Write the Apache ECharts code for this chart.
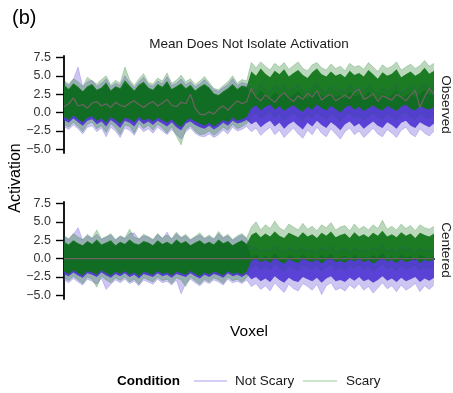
<!DOCTYPE html>
<html>
<head>
<meta charset="utf-8">
<script src="https://cdn.jsdelivr.net/npm/echarts@6/dist/echarts.min.js"></script>
<style>html,body{margin:0;padding:0;background:#fff;}#c{width:453px;height:393px;}</style>
</head>
<body>
<div id="c"></div>
<script>
// ---- data (80 voxel bins) ----
const yTicks = [-5, -2.5, 0, 2.5, 5, 7.5];
const conditions = ['Not Scary', 'Scary'];
const panels = ['Observed', 'Centered'];

// Observed panel: Scary (green) dense band and outer extremes
const obsGreenHi = [3.8,3.2,4.0,3.5,2.9,3.6,3.9,3.1,3.4,4.1,3.0,3.6,3.3,4.4,3.7,3.0,3.8,4.2,3.4,3.1,3.9,3.5,4.3,3.2,3.6,4.0,3.3,3.8,3.0,3.5,3.9,3.4,2.6,2.4,2.9,3.3,3.9,3.2,3.7,3.5,
  5.6,5.0,6.0,5.3,4.8,5.7,5.2,5.9,4.9,5.4,5.8,5.1,4.7,5.5,6.0,5.2,4.9,5.6,5.0,5.3,4.8,5.7,5.1,5.4,4.9,5.8,5.2,4.6,5.5,5.0,5.3,5.9,4.8,5.2,5.6,5.0,5.4,6.1,5.3,5.7];
const obsGreenLo = [-0.6,-1.0,-0.4,-0.9,-1.3,-0.7,-0.5,-1.1,-0.8,-1.4,-0.6,-1.0,-1.5,-0.7,-0.9,-1.3,-0.6,-1.1,-0.8,-1.2,-0.7,-1.0,-1.4,-0.9,-1.6,-2.0,-1.1,-0.8,-1.2,-1.5,-1.8,-1.4,-1.9,-1.5,-1.0,-1.3,-0.7,-1.1,-0.9,-0.6,
  0.6,1.0,0.3,0.8,1.1,0.4,0.9,0.2,0.7,1.0,0.5,0.1,0.8,0.4,1.1,0.6,0.3,0.9,0.5,0.0,0.7,1.0,0.4,0.8,0.2,0.6,1.0,0.5,0.3,0.9,0.6,0.2,0.8,1.1,0.5,0.3,0.9,0.6,0.4,0.8];
const obsGreenMax = [4.4,3.9,4.6,4.2,3.6,4.8,4.3,3.9,4.5,5.0,3.8,4.4,4.0,6.2,4.5,3.7,4.6,5.3,4.1,3.9,4.7,4.3,5.4,4.0,4.4,5.1,4.2,4.6,3.8,4.3,4.9,4.1,3.3,3.1,3.7,4.2,5.0,4.0,4.5,4.3,
  6.8,6.1,6.9,6.3,5.8,6.7,6.2,6.8,5.9,6.4,6.9,6.0,5.7,6.5,6.8,6.1,5.8,6.6,6.0,6.3,5.7,6.7,6.2,6.4,5.9,6.8,6.2,5.6,6.5,6.0,6.3,6.9,5.8,6.2,6.6,6.0,6.4,7.1,6.3,6.7];
const obsGreenMin = [-1.6,-2.0,-1.3,-1.9,-2.6,-1.6,-1.3,-2.2,-1.8,-2.7,-1.5,-2.1,-3.0,-1.7,-1.9,-2.8,-1.5,-2.2,-1.7,-2.4,-1.6,-2.1,-2.8,-1.9,-3.2,-4.4,-2.3,-1.8,-2.5,-3.0,-2.9,-2.5,-3.1,-2.6,-2.0,-2.4,-1.6,-2.2,-1.9,-1.5,
  -0.5,0.0,-0.8,-0.3,0.1,-0.7,-0.2,-1.0,-0.4,0.0,-0.6,-1.1,-0.2,-0.7,0.1,-0.5,-0.9,-0.1,-0.6,-1.2,-0.4,0.0,-0.7,-0.3,-1.0,-0.5,0.0,-0.6,-0.9,-0.1,-0.5,-1.0,-0.2,0.1,-0.6,-0.9,-0.1,-0.5,-0.8,-0.3];
// Observed panel: Not Scary (purple)
const obsPurpleHi = [3.5,3.0,3.8,3.3,2.8,3.4,3.7,3.0,3.2,3.9,2.9,3.4,3.1,4.0,3.5,2.9,3.6,3.9,3.2,3.0,3.7,3.3,4.0,3.1,3.4,3.8,3.1,3.6,2.9,3.3,3.7,3.2,2.5,2.3,2.7,3.1,3.7,3.0,3.5,3.3,
  2.6,2.2,3.0,2.4,2.0,2.8,2.3,2.9,2.1,2.5,2.9,2.2,1.9,2.6,3.0,2.3,2.0,2.7,2.1,2.4,1.9,2.8,2.2,2.5,2.0,2.9,2.3,1.8,2.6,2.1,2.4,3.0,1.9,2.3,2.7,2.1,2.5,3.1,2.4,2.8];
const obsPurpleLo = [-1.0,-1.4,-0.8,-1.3,-1.8,-1.1,-0.9,-1.6,-1.2,-1.9,-1.0,-1.5,-2.1,-1.1,-1.4,-1.9,-1.0,-1.6,-1.2,-1.7,-1.1,-1.5,-1.9,-1.3,-2.0,-2.4,-1.5,-1.2,-1.7,-2.0,-2.2,-1.8,-2.3,-1.9,-1.4,-1.8,-1.1,-1.5,-1.3,-1.0,
  -1.6,-1.2,-2.0,-1.5,-1.1,-1.9,-1.4,-2.2,-1.6,-1.2,-1.8,-2.3,-1.4,-1.9,-1.1,-1.7,-2.1,-1.3,-1.8,-2.4,-1.6,-1.2,-1.9,-1.5,-2.2,-1.7,-1.2,-1.8,-2.1,-1.3,-1.7,-2.2,-1.4,-1.1,-1.8,-2.1,-1.3,-1.7,-2.0,-1.5];
const obsPurpleMax = [4.1,3.7,4.5,6.2,3.5,4.2,4.4,3.6,4.0,4.6,3.5,4.0,3.7,5.0,4.1,3.4,4.2,4.8,3.8,3.6,4.3,3.9,4.9,3.7,4.0,4.6,3.8,4.2,3.5,3.9,4.5,3.8,3.1,2.9,3.4,3.8,4.6,3.7,4.1,3.9,
  3.4,3.0,3.9,3.2,2.8,3.7,3.1,3.8,2.9,3.3,3.8,3.0,2.7,3.5,3.9,3.1,2.8,3.6,2.9,3.2,2.7,3.7,3.0,3.4,2.8,3.8,3.1,2.6,3.5,2.9,3.2,3.9,2.7,3.1,3.6,2.9,3.3,4.0,3.2,3.7];
const obsPurpleMin = [-1.9,-2.3,-1.7,-2.2,-2.9,-2.0,-1.8,-2.6,-2.1,-3.3,-2.0,-2.5,-3.4,-2.1,-2.4,-3.1,-1.9,-2.6,-2.2,-2.8,-2.0,-2.5,-3.0,-2.3,-3.0,-3.6,-2.6,-2.1,-2.8,-3.2,-3.3,-2.9,-3.4,-3.0,-2.4,-2.9,-2.0,-2.5,-2.3,-1.9,
  -2.6,-2.1,-3.1,-2.5,-2.0,-3.0,-2.4,-3.4,-2.7,-2.1,-2.9,-3.5,-2.4,-3.0,-2.0,-2.8,-3.3,-2.2,-2.9,-3.6,-2.6,-2.1,-3.0,-2.5,-3.4,-2.8,-2.1,-2.9,-3.3,-2.3,-2.8,-3.4,-2.4,-2.0,-2.9,-3.3,-2.2,-2.8,-3.2,-2.5];
const obsMean = [0.8,1.2,2.0,0.9,1.1,0.6,1.3,1.5,0.9,1.2,0.7,1.4,1.0,0.8,1.3,1.6,1.1,0.7,1.2,1.5,0.9,1.3,1.8,1.0,0.8,1.4,1.2,2.5,0.6,-0.2,-0.3,0.1,-0.2,0.5,0.9,0.3,1.0,1.6,1.2,1.5,
  3.3,2.1,1.6,2.4,1.9,1.4,2.2,2.7,2.0,1.5,2.3,1.8,2.6,2.1,3.0,1.7,2.2,2.5,1.6,2.0,2.4,1.9,2.8,3.2,1.8,2.1,2.6,1.5,2.3,2.0,1.7,2.5,2.1,1.6,2.4,3.0,0.7,2.2,3.3,2.4];

// Centered panel: Scary (green)
const cenGreenHi = [2.3,1.9,2.5,2.1,1.8,2.4,2.0,2.6,1.9,2.2,2.5,1.8,2.3,2.0,2.6,2.1,1.9,2.4,2.2,1.8,2.5,2.0,2.3,1.9,2.6,2.1,2.4,1.8,2.2,2.5,2.0,2.3,1.9,2.6,2.1,2.4,1.8,2.2,2.5,2.0,
  3.2,3.6,2.9,3.4,3.0,3.7,3.1,2.8,3.5,3.2,2.9,3.6,3.0,3.3,2.8,3.5,3.1,3.7,2.9,3.2,3.4,2.8,3.6,3.0,3.3,2.9,3.5,3.1,3.8,3.0,3.3,2.9,3.6,3.1,3.4,2.8,3.5,3.2,3.0,3.4];
const cenGreenLo = [-1.8,-2.1,-1.6,-2.0,-2.3,-1.7,-1.9,-2.2,-1.6,-2.0,-2.3,-1.8,-2.1,-1.7,-2.2,-1.9,-2.4,-1.8,-2.0,-2.2,-1.7,-2.1,-1.9,-2.3,-1.8,-2.0,-2.2,-1.7,-2.1,-2.4,-1.9,-2.2,-1.8,-2.0,-2.3,-1.7,-2.1,-1.9,-2.2,-1.8,
  -0.3,0.0,-0.5,-0.2,-0.6,0.1,-0.4,-0.7,-0.1,-0.4,-0.6,0.0,-0.3,-0.5,-0.1,-0.7,-0.2,0.1,-0.5,-0.3,-0.6,-0.1,-0.4,0.0,-0.5,-0.2,-0.7,-0.3,0.1,-0.4,-0.2,-0.6,-0.1,-0.5,-0.3,0.0,-0.6,-0.2,-0.4,-0.1];
const cenGreenMax = [3.1,2.7,3.4,2.9,2.6,3.3,2.8,3.9,2.7,3.0,3.4,2.6,3.1,2.8,4.0,2.9,2.7,3.3,3.0,2.6,3.4,2.8,3.2,2.7,3.6,2.9,3.3,2.6,3.0,3.5,2.8,3.2,2.7,3.7,2.9,3.3,2.6,3.1,3.4,2.8,
  4.3,5.0,3.9,4.6,4.1,5.1,4.2,3.8,4.7,4.3,3.9,4.8,4.0,4.4,3.8,4.6,4.2,4.9,3.9,4.3,4.5,3.8,4.7,4.0,4.4,3.9,4.6,4.1,5.2,4.0,4.4,3.9,4.7,4.1,4.5,3.8,4.6,4.2,4.0,4.4];
const cenGreenMin = [-2.6,-3.0,-2.4,-2.9,-3.4,-2.5,-2.8,-3.9,-2.4,-2.9,-3.3,-2.6,-3.0,-2.5,-3.2,-2.8,-3.5,-2.6,-2.9,-3.2,-2.5,-3.0,-2.8,-3.4,-2.6,-2.9,-3.8,-2.5,-3.0,-3.5,-2.8,-3.2,-2.6,-2.9,-3.4,-2.5,-3.0,-2.8,-3.2,-2.6,
  -1.2,-0.8,-1.5,-1.0,-1.6,-0.7,-1.3,-1.7,-0.9,-1.3,-1.6,-0.8,-1.2,-1.5,-0.9,-1.7,-1.1,-0.7,-1.5,-1.2,-1.6,-0.9,-1.3,-0.8,-1.5,-1.0,-1.7,-1.2,-0.7,-1.3,-1.1,-1.6,-0.9,-1.5,-1.2,-0.8,-1.6,-1.1,-1.4,-1.0];
// Centered panel: Not Scary (purple)
const cenPurpleHi = [2.1,1.8,2.4,2.0,1.7,2.3,1.9,2.4,1.8,2.1,2.3,1.7,2.2,1.9,2.5,2.0,1.8,2.3,2.1,1.7,2.4,1.9,2.2,1.8,2.5,2.0,2.3,1.7,2.1,2.4,1.9,2.2,1.8,2.5,2.0,2.3,1.7,2.1,2.4,1.9,
  0.2,0.6,-0.1,0.4,0.0,0.7,0.1,-0.2,0.5,0.2,-0.1,0.6,0.0,0.3,-0.2,0.5,0.1,0.7,-0.1,0.2,0.4,-0.2,0.6,0.0,0.3,-0.1,0.5,0.1,0.8,0.0,0.3,-0.1,0.6,0.1,0.4,-0.2,0.5,0.2,0.0,0.4];
const cenPurpleLo = [-2.1,-2.4,-1.9,-2.3,-2.6,-2.0,-2.2,-2.5,-1.9,-2.3,-2.6,-2.1,-2.4,-2.0,-2.5,-2.2,-2.7,-2.1,-2.3,-2.5,-2.0,-2.4,-2.2,-2.6,-2.1,-2.3,-2.5,-2.0,-2.4,-2.7,-2.2,-2.5,-2.1,-2.3,-2.6,-2.0,-2.4,-2.2,-2.5,-2.1,
  -2.8,-2.5,-3.1,-2.7,-3.2,-2.4,-2.9,-3.3,-2.6,-3.0,-3.2,-2.5,-2.8,-3.1,-2.6,-3.3,-2.7,-2.4,-3.1,-2.9,-3.2,-2.6,-3.0,-2.5,-3.1,-2.8,-3.3,-2.9,-2.4,-3.0,-2.7,-3.2,-2.6,-3.1,-2.8,-2.5,-3.2,-2.7,-3.0,-2.6];
const cenPurpleMax = [3.0,2.6,3.3,4.2,2.5,3.1,2.7,3.3,2.6,2.9,3.2,2.5,3.0,2.7,3.4,3.5,2.6,3.1,2.9,2.5,3.3,2.7,3.6,2.6,3.4,2.8,3.1,2.5,2.9,3.2,2.7,3.0,2.6,3.4,2.8,3.1,2.5,2.9,3.2,2.7,
  1.2,1.6,0.9,1.4,1.0,1.8,1.1,0.8,1.5,1.2,0.9,1.6,1.0,1.3,0.8,1.5,1.1,1.7,0.9,1.2,1.4,0.8,1.6,1.0,1.3,0.9,1.5,1.1,1.8,1.0,1.3,0.9,1.6,1.1,1.4,0.8,1.5,1.2,1.0,1.4];
const cenPurpleMin = [-2.9,-3.3,-2.7,-3.2,-3.6,-2.8,-3.1,-3.5,-2.7,-4.2,-3.5,-2.9,-3.3,-2.8,-3.4,-3.1,-3.7,-2.9,-3.2,-3.5,-2.8,-3.3,-3.1,-3.6,-2.9,-4.8,-3.4,-2.8,-3.3,-3.7,-3.1,-3.4,-2.9,-3.2,-3.6,-2.8,-3.3,-3.1,-3.4,-2.9,
  -3.8,-3.4,-4.2,-3.7,-4.4,-3.3,-4.0,-4.6,-3.5,-4.1,-4.4,-3.4,-3.8,-4.3,-3.5,-4.9,-3.7,-3.3,-4.3,-4.0,-4.4,-3.6,-4.1,-3.4,-4.3,-3.8,-4.7,-4.0,-3.3,-4.1,-3.7,-4.5,-3.6,-4.3,-3.9,-3.4,-4.5,-3.7,-4.2,-3.6];
const cenMean = [0, 0];

// ---- chart ----
const voxels = obsMean.map((_, i) => String(i + 1));
const PURPLE = '#4a30d2', GREEN = '#0b7212', MEANC = '#6f6464';
const FONT = '"Liberation Sans", Arial, Helvetica, sans-serif';

function band(key, g, lo, hi, color, op, edge) {
  return [
    { type: 'line', xAxisIndex: g, yAxisIndex: g, stack: key, stackStrategy: 'all',
      data: lo, symbol: 'none',
      lineStyle: edge ? { width: 0.8, color: color, opacity: op } : { width: 0, opacity: 0 }, silent: true },
    { type: 'line', xAxisIndex: g, yAxisIndex: g, stack: key, stackStrategy: 'all',
      data: hi.map((v, i) => +(v - lo[i]).toFixed(2)), symbol: 'none',
      lineStyle: edge ? { width: 0.8, color: color, opacity: op } : { width: 0, opacity: 0 },
      areaStyle: { color: color, opacity: op }, silent: true }
  ];
}

function yAxisDef(g) {
  return {
    type: 'value', gridIndex: g, min: -5.5, max: 7.7,
    splitLine: { show: false },
    axisLine: { show: true, lineStyle: { color: '#000', width: 1.8 } },
    axisTick: { show: true, length: 8, lineStyle: { color: '#000', width: 1.4 }, customValues: yTicks },
    axisLabel: { color: '#333', fontSize: 12.5, fontFamily: FONT, margin: 13, customValues: yTicks,
      formatter: v => (v < 0 ? '\u2212' : '') + Math.abs(v).toFixed(1) }
  };
}

const series = [].concat(
  band('op0', 0, obsPurpleMin, obsPurpleMax, PURPLE, 0.28, true),
  band('og0', 0, obsGreenMin, obsGreenMax, GREEN, 0.28, true),
  band('op1', 0, obsPurpleLo, obsPurpleHi, PURPLE, 0.88, false),
  band('og1', 0, obsGreenLo, obsGreenHi, GREEN, 0.9, false),
  [{ type: 'line', xAxisIndex: 0, yAxisIndex: 0, data: obsMean, symbol: 'none',
     lineStyle: { color: MEANC, width: 1.2 }, silent: true }],
  band('cp0', 1, cenPurpleMin, cenPurpleMax, PURPLE, 0.28, true),
  band('cg0', 1, cenGreenMin, cenGreenMax, GREEN, 0.28, true),
  band('cp1', 1, cenPurpleLo, cenPurpleHi, PURPLE, 0.88, false),
  band('cg1', 1, cenGreenLo, cenGreenHi, GREEN, 0.9, false),
  [{ type: 'line', xAxisIndex: 2, yAxisIndex: 1, data: cenMean.map((v, k) => [k, v]), symbol: 'none',
     lineStyle: { color: MEANC, width: 1.2 }, silent: true }]
);

const txt = (x, y, text, size, extra) => Object.assign({
  type: 'text', x: x, y: y, silent: true,
  style: Object.assign({ text: text, fontSize: size, fontFamily: FONT, fill: '#1a1a1a',
    align: 'center', verticalAlign: 'middle' }, extra && extra.style)
}, extra && extra.el);

const chart = echarts.init(document.getElementById('c'), null, { renderer: 'canvas' });
chart.setOption({
  animation: false,
  backgroundColor: '#fff',
  grid: [
    { left: 64, top: 56, width: 370, height: 97 },
    { left: 64, top: 202, width: 370, height: 97 }
  ],
  xAxis: [
    { type: 'category', gridIndex: 0, data: voxels, boundaryGap: false, show: false },
    { type: 'category', gridIndex: 1, data: voxels, boundaryGap: false,
      axisLine: { show: true, lineStyle: { color: '#000', width: 1.8 } },
      axisTick: { show: false }, axisLabel: { show: false }, splitLine: { show: false } },
    { type: 'value', gridIndex: 1, min: 0, max: 1, show: false }
  ],
  yAxis: [yAxisDef(0), yAxisDef(1)],
  series: series,
  graphic: [
    txt(12, 18, '(b)', 20, { style: { align: 'left', fill: '#000' } }),
    txt(249, 44, 'Mean Does Not Isolate Activation', 13.5),
    txt(446, 104.5, panels[0], 13.5, { el: { rotation: -Math.PI / 2 } }),
    txt(446, 250, panels[1], 13.5, { el: { rotation: -Math.PI / 2 } }),
    txt(16, 178, 'Activation', 16, { el: { rotation: Math.PI / 2 }, style: { fill: '#000' } }),
    txt(249, 332, 'Voxel', 15.5, { style: { fill: '#000' } }),
    txt(117, 381, 'Condition', 13.5, { style: { align: 'left', fontWeight: 'bold', fill: '#000' } }),
    { type: 'line', silent: true, shape: { x1: 194, y1: 381, x2: 227, y2: 381 },
      style: { stroke: '#c6bff2', lineWidth: 1.6 } },
    txt(235, 381, conditions[0], 13.5, { style: { align: 'left' } }),
    { type: 'line', silent: true, shape: { x1: 303, y1: 381, x2: 337, y2: 381 },
      style: { stroke: '#b9dcb9', lineWidth: 1.6 } },
    txt(346, 381, conditions[1], 13.5, { style: { align: 'left' } })
  ]
});
</script>
</body>
</html>
